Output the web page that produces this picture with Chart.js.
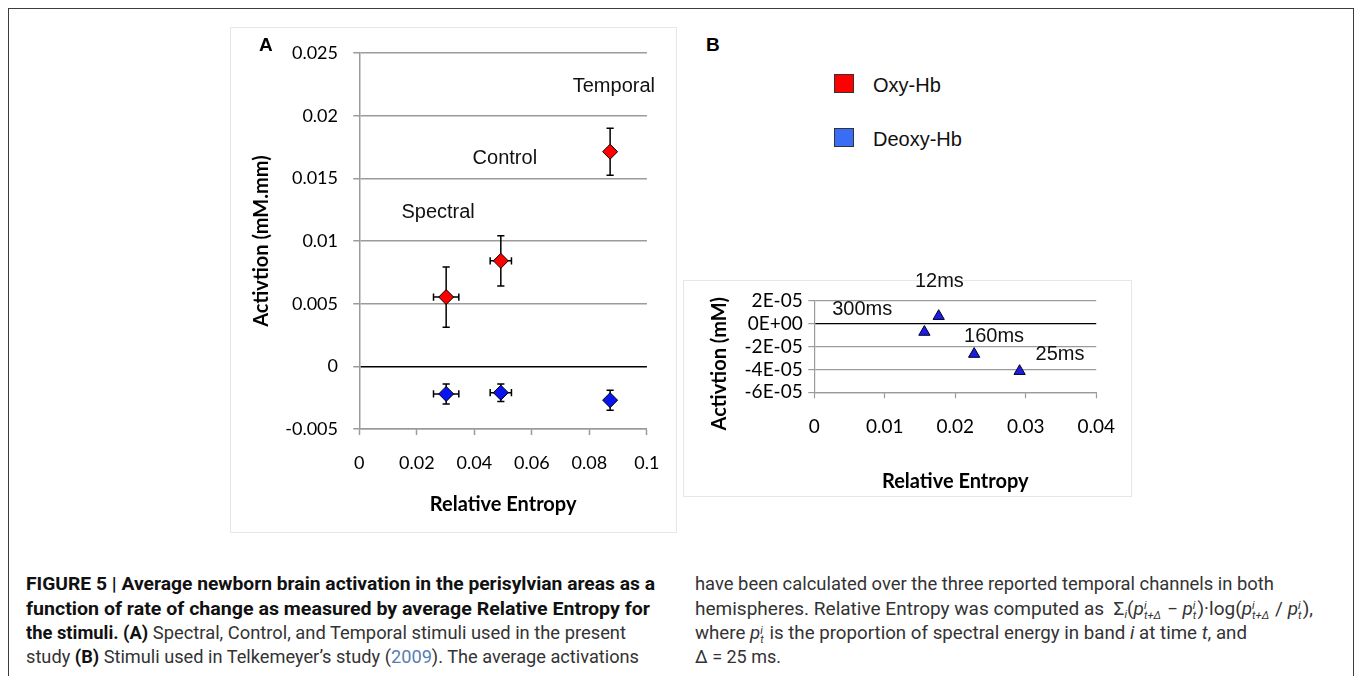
<!DOCTYPE html>
<html><head><meta charset="utf-8">
<script src="https://cdn.jsdelivr.net/npm/chart.js@4/dist/chart.umd.min.js"></script>
<style>
html,body{margin:0;padding:0;background:#fff;overflow:hidden;}
body{width:1361px;height:676px;position:relative;}
#frame{position:absolute;left:8px;top:8px;width:1346px;height:720px;border:1.5px solid #3c3c3c;border-bottom:none;box-sizing:border-box;}
.box{position:absolute;border:1px solid #e6e6e6;box-sizing:border-box;}
canvas{position:absolute;}
.plabel{position:absolute;font-family:"Liberation Sans",Arial,sans-serif;font-weight:bold;color:#000;}
.leg{position:absolute;font-family:"Liberation Sans",Arial,sans-serif;font-size:20px;line-height:20px;color:#111;white-space:nowrap;}
.sw{position:absolute;width:20px;height:19px;box-sizing:border-box;border:1.5px solid #333;}
.cap{position:absolute;white-space:nowrap;font-family:"Liberation Sans Narrow","Roboto",sans-serif;font-size:18px;line-height:21px;color:#333;transform-origin:0 0;}
.cap b{color:#111;}
.cap .lnk{color:#5a7db0;}
.st{display:inline-block;vertical-align:-4px;font-size:10.5px;line-height:9.5px;font-style:italic;margin-right:1px;}
.st span{display:block;}
.sb{font-size:10.5px;vertical-align:-3px;font-style:italic;}
</style></head>
<body>
<div id="frame"></div>
<div class="box" style="left:230px;top:27px;width:447px;height:506px;"></div>
<div class="box" style="left:683px;top:280px;width:449px;height:217px;"></div>
<canvas id="chartA" width="447" height="506" style="left:230px;top:27px;"></canvas>
<canvas id="chartB" width="449" height="232" style="left:683px;top:265px;"></canvas>
<div class="plabel" style="left:259px;top:34.6px;font-size:19px;line-height:19px;">A</div>
<div class="plabel" style="left:706px;top:34.6px;font-size:19px;line-height:19px;">B</div>
<div id="legend"></div>

<div class="cap" data-w="629" style="left:26px;top:573px;"><b>FIGURE 5 | Average newborn brain activation in the perisylvian areas as a</b></div>
<div class="cap" data-w="624" style="left:26px;top:597.5px;"><b>function of rate of change as measured by average Relative Entropy for</b></div>
<div class="cap" data-w="600" style="left:26px;top:622px;"><b>the stimuli. (A)</b> Spectral, Control, and Temporal stimuli used in the present</div>
<div class="cap" data-w="613" style="left:26px;top:646px;">study <b>(B)</b> Stimuli used in Telkemeyer’s study (<span class="lnk">2009</span>). The average activations</div>

<div class="cap" data-w="579" style="left:695px;top:573px;">have been calculated over the three reported temporal channels in both</div>
<div class="cap" data-w="618" style="left:695px;top:597.5px;">hemispheres. Relative Entropy was computed as &nbsp;Σ<span class="sb">i</span>(<i>p</i><span class="st"><span>i</span><span>t+Δ</span></span> − <i>p</i><span class="st"><span>i</span><span>t</span></span>)·log(<i>p</i><span class="st"><span>i</span><span>t+Δ</span></span> / <i>p</i><span class="st"><span>i</span><span>t</span></span>),</div>
<div class="cap" data-w="552" style="left:695px;top:622px;">where <i>p</i><span class="st"><span>i</span><span>t</span></span> is the proportion of spectral energy in band <i>i</i> at time <i>t</i>, and</div>
<div class="cap" data-w="86" style="left:695px;top:646px;">Δ = 25 ms.</div>

<script>
// ---------- Panel A data ----------
const stimuli = ['Spectral', 'Control', 'Temporal'];
const entropyA = [0.0302, 0.0492, 0.0872];
const entropyErrA = [0.0044, 0.0037, 0.001];
const oxyHb = [0.00553, 0.00842, 0.01713];
const oxyHbErr = [0.0024, 0.0020, 0.00188];
const deoxyHb = [-0.0022, -0.0021, -0.0027];
const deoxyHbErr = [0.0008, 0.0007, 0.0008];
const stimLabelX = [0.0274, 0.0506, 0.0885];
const stimLabelY = [0.0123, 0.01657, 0.0223];
const seriesNames = ['Oxy-Hb', 'Deoxy-Hb'];

// ---------- Panel B data ----------
const durations = ['300ms', '12ms', '160ms', '25ms'];
const entropyB = [0.01562, 0.01765, 0.02268, 0.02913];
const activationB = [-0.72e-5, 0.67e-5, -2.65e-5, -4.15e-5];
const durLabelX = [0.0068, 0.01774, 0.0255, 0.03486];
const durLabelY = [1.29e-5, 3.69e-5, -1.08e-5, -2.66e-5];

// ---------- axis settings ----------
const xTicksA = {min: 0, max: 0.1, step: 0.02};
const yTicksA = {min: -0.005, max: 0.025, step: 0.005};
const xTicksB = {min: 0, max: 0.04, step: 0.01};
const yTicksB = {min: -6e-5, max: 2e-5, step: 2e-5};

const gridGrey = '#9b9b9b';
const red = '#ff0000', blue = '#0a14f0', triBlue = '#1d1de0';
const legendColors = ['#ff0000', '#3a6df5'];

function fmt(v) { return String(Math.round(v * 1e6) / 1e6); }
function sci(v) {
  const r = Math.round(v * 1e8) / 1e8;
  if (r === 0) return '0E+00';
  const parts = r.toExponential(0).split('e');
  const n = parseInt(parts[1], 10);
  return parts[0] + 'E' + (n < 0 ? '-' : '+') + String(Math.abs(n)).padStart(2, '0');
}
const zeroBlack = ctx => (ctx.tick && Math.abs(ctx.tick.value) < 1e-12) ? '#000' : gridGrey;

function errorBarsPlugin(sets) {
  return {
    id: 'errorBars',
    beforeDatasetsDraw(chart) {
      const {ctx, scales: {x, y}} = chart;
      const c = 3.6;
      ctx.save();
      ctx.strokeStyle = '#000';
      ctx.lineWidth = 1.5;
      sets.forEach(s => {
        s.x.forEach((xv, i) => {
          const px = x.getPixelForValue(xv), py = y.getPixelForValue(s.y[i]);
          const yT = y.getPixelForValue(s.y[i] + s.yErr[i]), yB = y.getPixelForValue(s.y[i] - s.yErr[i]);
          const xL = x.getPixelForValue(xv - s.xErr[i]), xR = x.getPixelForValue(xv + s.xErr[i]);
          ctx.beginPath();
          ctx.moveTo(px, yT); ctx.lineTo(px, yB);
          ctx.moveTo(px - c, yT); ctx.lineTo(px + c, yT);
          ctx.moveTo(px - c, yB); ctx.lineTo(px + c, yB);
          ctx.moveTo(xL, py); ctx.lineTo(xR, py);
          ctx.moveTo(xL, py - c); ctx.lineTo(xL, py + c);
          ctx.moveTo(xR, py - c); ctx.lineTo(xR, py + c);
          ctx.stroke();
        });
      });
      ctx.restore();
    }
  };
}
function textLabelsPlugin(texts, xs, ys) {
  return {
    id: 'textLabels',
    afterDatasetsDraw(chart) {
      const {ctx, scales: {x, y}} = chart;
      ctx.save();
      ctx.font = '20px "Liberation Sans", Arial, sans-serif';
      ctx.fillStyle = '#111';
      ctx.textAlign = 'center';
      ctx.textBaseline = 'middle';
      texts.forEach((t, i) => ctx.fillText(t, x.getPixelForValue(xs[i]), y.getPixelForValue(ys[i])));
      ctx.restore();
    }
  };
}

function axis(range, fmtFn, fontSize, pad, extra) {
  return Object.assign({
    type: 'linear', min: range.min, max: range.max,
    ticks: {stepSize: range.step, autoSkip: false, maxRotation: 0, padding: pad, color: '#000',
            font: {family: 'Lato', size: fontSize}, callback: v => fmtFn(v)},
  }, extra);
}

const toXY = (xs, ys) => xs.map((v, i) => ({x: v, y: ys[i]}));

new Chart(document.getElementById('chartA'), {
  type: 'scatter',
  data: {
    datasets: [
      {label: seriesNames[0], data: toXY(entropyA, oxyHb), pointStyle: 'rectRot', pointRadius: 7.5,
       backgroundColor: red, borderColor: '#000', borderWidth: 1},
      {label: seriesNames[1], data: toXY(entropyA, deoxyHb), pointStyle: 'rectRot', pointRadius: 7.5,
       backgroundColor: blue, borderColor: '#000', borderWidth: 1}
    ]
  },
  options: {
    responsive: false, animation: false, devicePixelRatio: 1,
    layout: {padding: {top: 20.7, right: 28.3, left: 0, bottom: 0}},
    plugins: {legend: {display: false}, tooltip: {enabled: false}},
    scales: {
      x: axis(xTicksA, fmt, 18, 17.5, {
        grid: {drawOnChartArea: false, drawTicks: true, tickLength: 6, tickColor: gridGrey, tickWidth: 1.5},
        border: {display: true, color: gridGrey, width: 1.5},
        title: {display: true, text: 'Relative Entropy', color: '#000',
                font: {family: 'Lato', size: 20, weight: 'bold'}, padding: {top: 0, bottom: 16}},
        afterFit(s) { s.height = 104; }
      }),
      y: axis(yTicksA, fmt, 18, 15.3, {
        grid: {color: zeroBlack, lineWidth: 1.5, drawTicks: true, tickLength: 6, tickColor: gridGrey, tickWidth: 1.5},
        border: {display: true, color: gridGrey, width: 1.5},
        title: {display: true, text: 'Activtion (mM.mm)', color: '#000',
                font: {family: 'Lato', size: 20, weight: 'bold'}, padding: {top: 19.7, bottom: 0}},
        afterFit(s) { s.width = 129.3; }
      })
    }
  },
  plugins: [
    errorBarsPlugin([
      {x: entropyA, xErr: entropyErrA, y: oxyHb, yErr: oxyHbErr},
      {x: entropyA, xErr: entropyErrA, y: deoxyHb, yErr: deoxyHbErr}
    ]),
    textLabelsPlugin(stimuli, stimLabelX, stimLabelY)
  ]
});

new Chart(document.getElementById('chartB'), {
  type: 'scatter',
  data: {
    datasets: [
      {label: 'Deoxy-Hb (Telkemeyer 2009)', data: toXY(entropyB, activationB), pointStyle: 'triangle', pointRadius: 6.5,
       backgroundColor: triBlue, borderColor: '#00002a', borderWidth: 1}
    ]
  },
  options: {
    responsive: false, animation: false, devicePixelRatio: 1,
    layout: {padding: {top: 36, right: 34.3, left: 0, bottom: 0}},
    plugins: {legend: {display: false}, tooltip: {enabled: false}},
    scales: {
      x: axis(xTicksB, fmt, 19, 17, {
        grid: {drawOnChartArea: false, drawTicks: true, tickLength: 6, tickColor: gridGrey, tickWidth: 1.2},
        border: {display: true, color: gridGrey, width: 1.2},
        title: {display: true, text: 'Relative Entropy', color: '#000',
                font: {family: 'Lato', size: 20, weight: 'bold'}, padding: {top: 0, bottom: 3.3}},
        afterFit(s) { s.height = 104.7; }
      }),
      y: axis(yTicksB, sci, 19, 5.6, {
        grid: {color: zeroBlack, lineWidth: 1.2, drawTicks: true, tickLength: 6, tickColor: gridGrey, tickWidth: 1.2},
        border: {display: true, color: gridGrey, width: 1.2},
        title: {display: true, text: 'Activtion (mM)       ', color: '#000',
                font: {family: 'Lato', size: 20, weight: 'bold'}, padding: {top: 24.2, bottom: 0}},
        afterFit(s) { s.width = 131.3; }
      })
    }
  },
  plugins: [textLabelsPlugin(durations, durLabelX, durLabelY)]
});

// ---------- legend (series of panel A) ----------
const legend = document.getElementById('legend');
const legendTops = [74, 128];
seriesNames.forEach((name, i) => {
  const sw = document.createElement('div');
  sw.className = 'sw';
  sw.style.left = '834px'; sw.style.top = legendTops[i] + 'px';
  sw.style.background = legendColors[i];
  legend.appendChild(sw);
  const t = document.createElement('div');
  t.className = 'leg';
  t.style.left = '873px'; t.style.top = (legendTops[i] + 0.5) + 'px';
  t.textContent = name;
  legend.appendChild(t);
});

// ---------- fit caption line widths ----------
function fitCaption() {
  document.querySelectorAll('.cap').forEach(el => {
    el.style.transform = 'none';
    const w = el.getBoundingClientRect().width;
    const target = parseFloat(el.dataset.w);
    if (w > 0) el.style.transform = 'scaleX(' + (target / w) + ')';
  });
}
fitCaption();
if (document.fonts && document.fonts.ready) document.fonts.ready.then(fitCaption);
</script>
</body></html>
